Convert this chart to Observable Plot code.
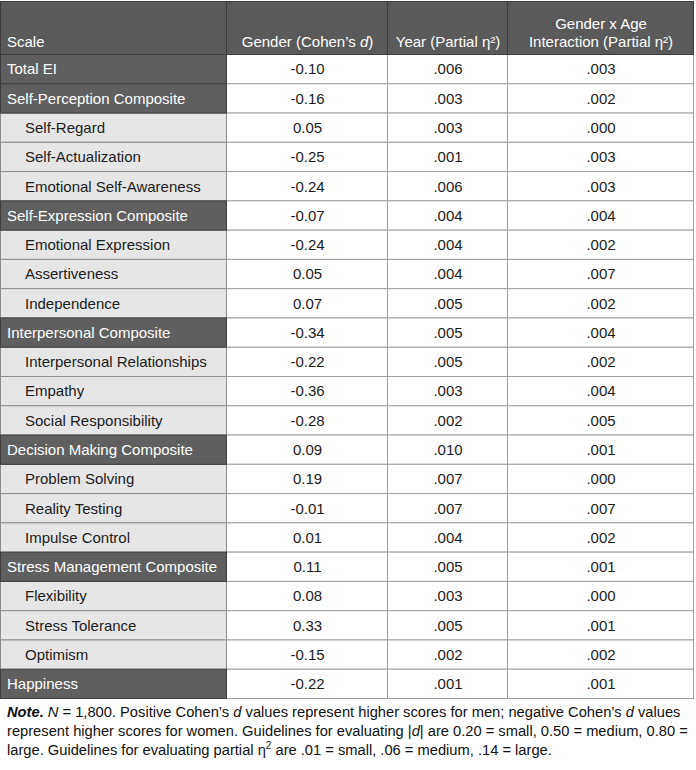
<!DOCTYPE html>
<html><head><meta charset="utf-8">
<script src="https://cdn.jsdelivr.net/npm/d3@7"></script>
<script src="https://cdn.jsdelivr.net/npm/@observablehq/plot@0.6"></script>
<style>
body{margin:0;background:#fff;font-family:"Liberation Sans",Arial,sans-serif;}
#chart svg{display:block}
#note{margin:4px 0 0 7px;font-size:14.7px;line-height:19px;color:#111;white-space:nowrap}
#note sup{font-size:10px;line-height:0;vertical-align:6px}
</style></head><body>
<div id="chart"></div>
<div id="note"><b><i>Note.</i></b> <i>N</i> = 1,800. Positive Cohen’s <i>d</i> values represent higher scores for men; negative Cohen’s <i>d</i> values<br>represent higher scores for women. Guidelines for evaluating |<i>d</i>| are 0.20 = small, 0.50 = medium, 0.80 =<br>large. Guidelines for evaluating partial η<sup>2</sup> are .01 = small, .06 = medium, .14 = large.</div>
<script>
// ---- data ----
const columns = ["Scale", "Gender (Cohen’s _d_)", "Year (Partial η²)", "Gender x Age\nInteraction (Partial η²)"];
const scales = ["Total EI", "Self-Perception Composite", "Self-Regard", "Self-Actualization", "Emotional Self-Awareness",
  "Self-Expression Composite", "Emotional Expression", "Assertiveness", "Independence",
  "Interpersonal Composite", "Interpersonal Relationships", "Empathy", "Social Responsibility",
  "Decision Making Composite", "Problem Solving", "Reality Testing", "Impulse Control",
  "Stress Management Composite", "Flexibility", "Stress Tolerance", "Optimism", "Happiness"];
const kinds = ["composite", "composite", "sub", "sub", "sub",
  "composite", "sub", "sub", "sub",
  "composite", "sub", "sub", "sub",
  "composite", "sub", "sub", "sub",
  "composite", "sub", "sub", "sub", "composite"];
const genderD = [-0.10, -0.16, 0.05, -0.25, -0.24, -0.07, -0.24, 0.05, 0.07, -0.34, -0.22, -0.36, -0.28, 0.09, 0.19, -0.01, 0.01, 0.11, 0.08, 0.33, -0.15, -0.22];
const yearEta = [0.006, 0.003, 0.003, 0.001, 0.006, 0.004, 0.004, 0.004, 0.005, 0.005, 0.005, 0.003, 0.002, 0.010, 0.007, 0.007, 0.004, 0.005, 0.003, 0.005, 0.002, 0.001];
const interactionEta = [0.003, 0.002, 0.000, 0.003, 0.003, 0.004, 0.002, 0.007, 0.002, 0.004, 0.002, 0.004, 0.005, 0.001, 0.000, 0.007, 0.002, 0.001, 0.000, 0.001, 0.002, 0.001];

// ---- layout & style ----
const colEdges = [0.5, 226.5, 387.5, 507.5, 693.5];
const palette = {header: "#5a5a5a", composite: "#5f5f5f", sub: "#e6e6e6", data: "#ffffff"};
const borders = {header: "#3e3e3e", composite: "#3e3e3e", sub: "#8c8c8c", data: "#a0a0a0"};
const textColor = {header: "#ffffff", composite: "#ffffff", sub: "#1c1c1c", data: "#1c1c1c"};
const FS = 15;

const fmtD = v => v.toFixed(2);
const fmtEta = v => v.toFixed(3).replace(/^0/, "");

const rows = scales.map((s, i) => ({row: i + 1, scale: s, kind: kinds[i], d: genderD[i], year: yearEta[i], inter: interactionEta[i]}));
const cells = [];
rows.forEach(r => {
  cells.push({row: r.row, col: 0, type: r.kind});
  [fmtD(r.d), fmtEta(r.year), fmtEta(r.inter)].forEach((t, k) => cells.push({row: r.row, col: k + 1, type: "data", text: t}));
});
columns.forEach((c, j) => cells.push({row: 0, col: j, type: "header", text: c}));
const order = {data: 0, sub: 1, composite: 2, header: 3};
cells.sort((a, b) => order[a.type] - order[b.type]);

const dataCells = cells.filter(c => c.type === "data");
const hdr = columns.map((c, j) => ({col: j, text: c}));

const plot = Plot.plot({
  width: 696, height: 699,
  margin: 0,
  x: {type: "linear", domain: [0, 1, 2, 3, 4], range: colEdges, axis: null},
  y: {type: "linear", domain: [0, 1, 23], range: [1.5, 54.5, 698.5], axis: null},
  style: {fontFamily: "'Liberation Sans', Arial, sans-serif", background: "#fff"},
  marks: [
    Plot.rect(cells, {x1: "col", x2: d => d.col + 1, y1: "row", y2: d => d.row + 1,
      fill: d => palette[d.type], stroke: d => borders[d.type], strokeWidth: 1}),
    Plot.text(hdr.filter(d => d.col === 0), {x: "col", y: 1, text: "text", textAnchor: "start", lineAnchor: "bottom", dx: 6, dy: -8, fill: "#fff", fontSize: FS}),
    Plot.text(hdr.filter(d => d.col > 0), {x: d => d.col + 0.5, y: 1, text: "text", textAnchor: "middle", lineAnchor: "bottom", dy: -8, lineHeight: 1.2, fill: "#fff", fontSize: FS}),
    Plot.text(rows.filter(r => r.kind === "composite"), {x: 0, y: d => d.row + 0.5, text: "scale", textAnchor: "start", dx: 6, fill: textColor.composite, fontSize: FS}),
    Plot.text(rows.filter(r => r.kind === "sub"), {x: 0, y: d => d.row + 0.5, text: "scale", textAnchor: "start", dx: 24, fill: textColor.sub, fontSize: FS}),
    Plot.text(dataCells, {x: d => d.col + 0.5, y: d => d.row + 0.5, text: "text", textAnchor: "middle", fill: textColor.data, fontSize: FS})
  ]
});

// italic segments marked by underscores
const NS = "http://www.w3.org/2000/svg";
plot.querySelectorAll("text, tspan").forEach(el => {
  if (el.children.length === 0 && el.textContent.includes("_")) {
    const parts = el.textContent.split("_");
    el.textContent = "";
    parts.forEach((p, k) => {
      if (!p) return;
      const t = document.createElementNS(NS, "tspan");
      t.textContent = p;
      if (k % 2) t.setAttribute("font-style", "italic");
      el.appendChild(t);
    });
  }
});
document.getElementById("chart").appendChild(plot);
</script>
</body></html>
